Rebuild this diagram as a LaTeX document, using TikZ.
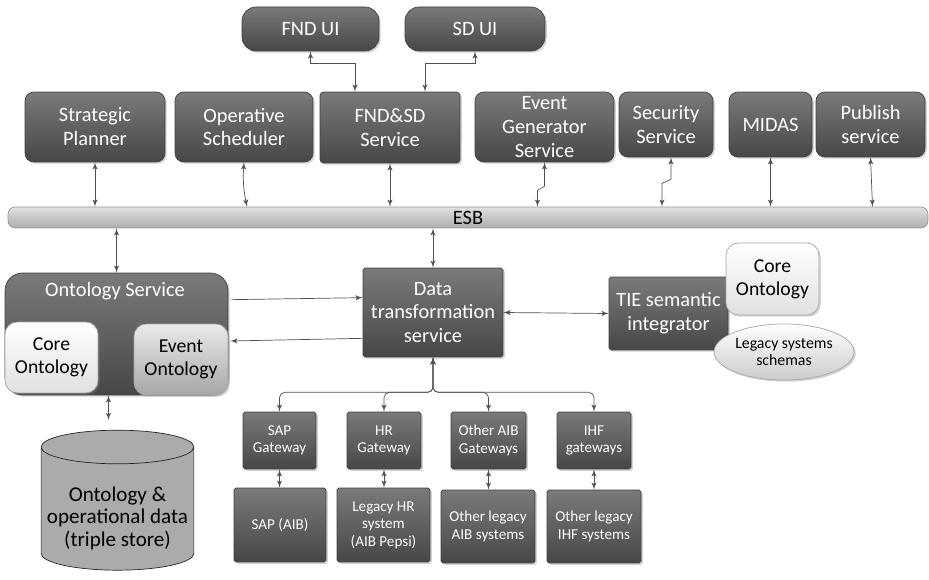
\documentclass[tikz,border=0pt]{standalone}
\usepackage{fontspec}
\setmainfont{Carlito}
\usepackage{xcolor}
\usetikzlibrary{shapes,arrows,shadows,calc}
\definecolor{boxtop}{HTML}{7A7A7A}
\definecolor{boxbot}{HTML}{474747}
\definecolor{linegray}{HTML}{505050}
\tikzstyle{block} = [rectangle, draw=black!75, top color=boxtop, bottom color=boxbot, text=white, align=center, rounded corners=5pt, inner sep=1pt, font=\fontsize{11.6}{13.6}\selectfont, drop shadow={shadow xshift=1pt, shadow yshift=-1pt, opacity=0.35}]
\tikzstyle{gateway} = [block, rounded corners=1pt, font=\fontsize{8.6}{10}\selectfont]
\tikzstyle{lightbox} = [rectangle, draw=black!35, top color=white, bottom color=black!12, text=black, align=center, rounded corners=6pt, inner sep=1pt, font=\fontsize{11.2}{13}\selectfont, drop shadow={shadow xshift=1pt, shadow yshift=-1pt, opacity=0.35}]
\tikzstyle{line} = [draw=linegray, latex'-latex', line width=0.4pt]

\begin{document}
\begin{tikzpicture}[x=0.02cm, y=-0.02cm]
\useasboundingbox (0,0) rectangle (929,580);
% user interfaces
\node [block, rounded corners=8pt, minimum width=2.74cm, minimum height=0.88cm] (fndui) at (310.5,29) {FND UI};
\node [block, rounded corners=8pt, minimum width=2.8cm, minimum height=0.88cm] (sdui) at (475,29) {SD UI};
% services
\node [block, minimum width=2.8cm, minimum height=1.4cm] (strat) at (95,127) {Strategic\\Planner};
\node [block, minimum width=2.76cm, minimum height=1.4cm] (oper) at (244,127) {Operative\\Scheduler};
\node [block, rounded corners=2pt, minimum width=2.8cm, minimum height=1.42cm] (fndsd) at (390,127.5) {FND\&SD\\Service};
\node [block, minimum width=2.78cm, minimum height=1.4cm] (evgen) at (544.5,127) {Event\\Generator\\Service};
\node [block, minimum width=1.88cm, minimum height=1.3cm] (secur) at (666,124.5) {Security\\Service};
\node [block, minimum width=1.66cm, minimum height=1.3cm] (midas) at (770.5,124.5) {MIDAS};
\node [block, minimum width=2.18cm, minimum height=1.3cm] (publ) at (870.5,124.5) {Publish\\service};
% bus
\node [rectangle, draw=black!40, top color=black!12, bottom color=black!32, rounded corners=4pt, minimum width=18.4cm, minimum height=0.42cm, inner sep=0pt, font=\fontsize{11.6}{13}\selectfont] (esb) at (468,217.5) {ESB};
% ontology service
\node [block, rounded corners=10pt, minimum width=4.46cm, minimum height=2.44cm] (ontsvc) at (116.5,334) {};
\node [text=white, font=\fontsize{11.6}{13}\selectfont] (ontitle) at (115,291) {Ontology Service};
\node [lightbox, rounded corners=7pt, minimum width=1.86cm, minimum height=1.42cm] (coreL) at (51.5,357.5) {Core\\Ontology};
\node [lightbox, rounded corners=7pt, top color=black!8, bottom color=black!35, minimum width=1.88cm, minimum height=1.42cm] (evont) at (181,359.5) {Event\\Ontology};
\node [cylinder, shape border rotate=90, aspect=0.22, draw=black!85, fill=black!33, minimum width=2.94cm, minimum height=2.8cm, align=center, font=\fontsize{12}{12.8}\selectfont] (store) at (117.5,512) {\phantom{Ontology \&}\\\phantom{operational data}\\\phantom{(triple store)}};
\node [align=center, font=\fontsize{12}{12.8}\selectfont] (storetext) at (117.5,518) {Ontology \&\\operational data\\(triple store)};
% transformation and integration
\node [block, rounded corners=1pt, minimum width=2.8cm, minimum height=1.78cm] (datatr) at (433,312.5) {Data\\transformation\\service};
\node [block, rounded corners=1pt, minimum width=2.38cm, minimum height=1.46cm] (tie) at (668.5,313.5) {TIE semantic\\integrator};
\node [lightbox, rounded corners=7pt, minimum width=1.86cm, minimum height=1.44cm] (coreR) at (772.5,279) {Core\\Ontology};
\node [ellipse, draw=black!35, top color=white, bottom color=black!20, minimum width=2.8cm, minimum height=1.12cm, inner sep=0pt, align=center, font=\fontsize{9}{9.8}\selectfont, drop shadow={shadow xshift=1pt, shadow yshift=-1pt, opacity=0.35}] (schemas) at (784,352) {Legacy systems\\schemas};
% gateways
\node [gateway, minimum width=1.46cm, minimum height=1.14cm] (sapgw) at (279.5,440.5) {SAP\\Gateway};
\node [gateway, minimum width=1.48cm, minimum height=1.14cm] (hrgw) at (384,440.5) {HR\\Gateway};
\node [gateway, minimum width=1.5cm, minimum height=1.14cm] (aibgw) at (488.5,440.5) {Other AIB\\Gateways};
\node [gateway, minimum width=1.48cm, minimum height=1.14cm] (ihfgw) at (594,440.5) {IHF\\gateways};
% legacy systems
\node [gateway, minimum width=1.84cm, minimum height=1.48cm] (sap) at (280,525) {SAP (AIB)};
\node [gateway, minimum width=1.86cm, minimum height=1.48cm] (hr) at (383.5,525) {Legacy HR\\system\\(AIB Pepsi)};
\node [gateway, minimum width=1.88cm, minimum height=1.46cm] (aib) at (488,526.5) {Other legacy\\AIB systems};
\node [gateway, minimum width=1.88cm, minimum height=1.46cm] (ihf) at (594,526.5) {Other legacy\\IHF systems};
% connectors
\path [line] (fndui.south) -- ++(0,12) -| ($(fndsd.north)+(-35,0)$);
\path [line] (sdui.south) -- ++(0,12) -| ($(fndsd.north)+(35,0)$);
\path [line] (strat.south) -- (strat.south |- esb.north);
\path [line] (oper.south) to[bend right=8] ($(oper.south |- esb.north)+(3,0)$);
\path [line] (fndsd.south) -- (fndsd.south |- esb.north);
\path [line] (evgen.south) -- ++(0,24) -- ++(-7,4) -- ($(evgen.south |- esb.north)+(-7,0)$);
\path [line] ($(secur.south)+(5,0)$) -- ++(0,22) -- ++(-9,4) -- ($(secur.south |- esb.north)+(-4,0)$);
\path [line] (midas.south) -- (midas.south |- esb.north);
\path [line] (publ.south) -- ($(publ.south |- esb.north)+(2,0)$);
\path [line] (esb.south -| ontsvc.north) -- (ontsvc.north);
\path [line] (esb.south -| datatr.north) -- (datatr.north);
\path [line, shorten >=0.2cm] ($(ontsvc.south)+(-8,0)$) -- ($(store.north)+(-9,0)$);
\path [line, -latex'] ($(ontsvc.north east)+(3,27)$) -- ($(datatr.north west)+(0,30)$);
\path [line, -latex'] ($(datatr.south west)+(0,-19)$) -- ($(ontsvc.east)+(2,7)$);
\path [line] (datatr.east) -- (tie.west);
\path [line, rounded corners=3pt] (datatr.south) -- ++(0,35) -| (sapgw.north);
\path [line, rounded corners=3pt] (datatr.south) -- ++(0,35) -| (hrgw.north);
\path [line, rounded corners=3pt] (datatr.south) -- ++(0,35) -| (aibgw.north);
\path [line, rounded corners=3pt] (datatr.south) -- ++(0,35) -| (ihfgw.north);
\path [line] (sapgw.south) -- (sapgw.south |- sap.north);
\path [line] (hrgw.south) -- (hrgw.south |- hr.north);
\path [line] (aibgw.south) -- (aibgw.south |- aib.north);
\path [line] (ihfgw.south) -- (ihfgw.south |- ihf.north);
\end{tikzpicture}
\end{document}
